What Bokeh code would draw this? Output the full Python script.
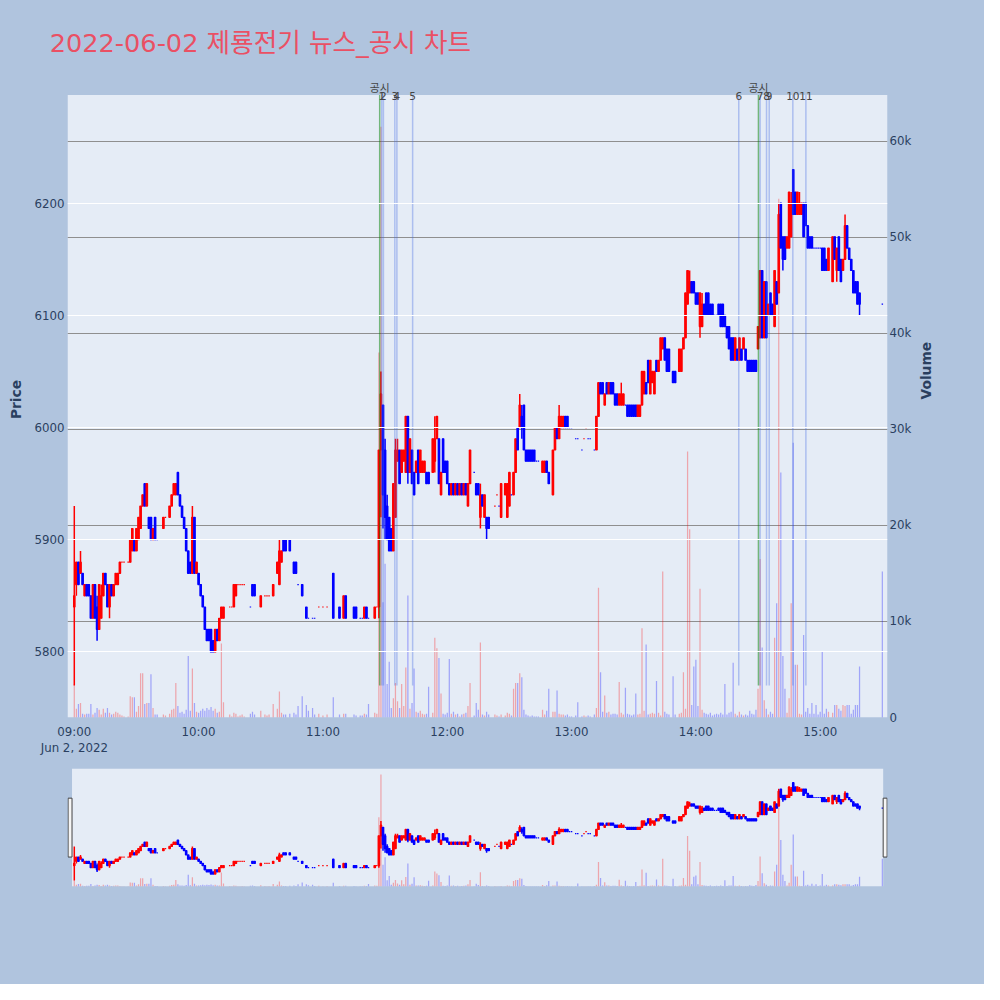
import math
from bokeh.plotting import figure
from bokeh.models import (ColumnDataSource, Range1d, LinearAxis, FixedTicker,
                          NumeralTickFormatter, Label)
from bokeh.layouts import column
from bokeh.embed import file_html
from bokeh.resources import INLINE

# ---------------- data (minutes after 09:00, 2022-06-02) ----------------
title_text = "2022-06-02 제룡전기 뉴스_공시 차트"

minutes = [
    0, 1, 2, 3, 4, 5, 6, 7, 8, 9,
    10, 11, 12, 13, 14, 15, 16, 17, 18, 19,
    20, 21, 22, 23, 24, 26, 27, 28, 29, 30,
    31, 32, 33, 34, 35, 36, 37, 38, 39, 40,
    43, 44, 46, 47, 48, 49, 50, 51, 52, 53,
    54, 55, 56, 57, 58, 59, 60, 61, 62, 63,
    64, 65, 66, 67, 68, 69, 70, 71, 72, 75,
    76, 77, 78, 79, 80, 81, 82, 85, 86, 87,
    90, 92, 93, 94, 96, 98, 99, 100, 101, 102,
    104, 106, 107, 108, 110, 112, 113, 115, 116, 118,
    120, 122, 125, 128, 130, 131, 135, 136, 138, 139,
    140, 141, 142, 145, 146, 147, 148, 149, 150, 151,
    152, 153, 154, 155, 156, 157, 158, 159, 160, 161,
    162, 163, 164, 165, 166, 167, 168, 169, 170, 171,
    173, 174, 175, 176, 177, 178, 179, 180, 181, 182,
    183, 184, 185, 186, 187, 188, 189, 190, 191, 193,
    194, 195, 196, 197, 198, 199, 200, 203, 204, 205,
    206, 208, 209, 210, 211, 212, 213, 214, 215, 216,
    217, 218, 219, 220, 221, 222, 223, 224, 226, 227,
    228, 229, 231, 232, 233, 234, 235, 236, 237, 238,
    239, 240, 242, 243, 245, 246, 247, 248, 249, 251,
    252, 253, 254, 255, 256, 257, 258, 259, 260, 261,
    262, 263, 264, 265, 266, 267, 268, 269, 270, 271,
    272, 273, 274, 275, 276, 277, 278, 279, 280, 281,
    282, 283, 284, 285, 286, 287, 289, 290, 292, 293,
    294, 295, 296, 297, 298, 299, 300, 301, 302, 303,
    304, 305, 306, 307, 308, 309, 310, 311, 312, 313,
    314, 315, 316, 317, 318, 319, 320, 321, 322, 323,
    324, 325, 326, 327, 328, 329, 330, 331, 332, 333,
    334, 335, 336, 337, 338, 339, 340, 341, 342, 343,
    344, 345, 346, 347, 348, 349, 350, 351, 352, 353,
    354, 355, 356, 357, 358, 359, 360, 361, 362, 363,
    364, 366, 367, 368, 369, 370, 371, 372, 373, 374,
    375, 376, 377, 378, 379, 390,
]

open_ = [
    5840, 5860, 5880, 5870, 5870, 5850, 5860, 5860, 5850, 5830,
    5860, 5840, 5820, 5830, 5850, 5870, 5860, 5840, 5860, 5850,
    5860, 5860, 5870, 5880, 5880, 5880, 5880, 5890, 5900, 5890,
    5900, 5910, 5930, 5950, 5930, 5920, 5920, 5900, 5920, 5900,
    5910, 5920, 5920, 5930, 5940, 5940, 5960, 5940, 5930, 5920,
    5910, 5890, 5880, 5870, 5920, 5870, 5870, 5860, 5850, 5840,
    5820, 5820, 5820, 5810, 5800, 5820, 5810, 5830, 5830, 5840,
    5840, 5840, 5850, 5860, 5860, 5860, 5860, 5840, 5860, 5860,
    5840, 5850, 5850, 5850, 5850, 5870, 5860, 5880, 5900, 5900,
    5900, 5880, 5880, 5860, 5860, 5840, 5830, 5830, 5830, 5840,
    5840, 5840, 5870, 5840, 5830, 5850, 5840, 5840, 5830, 5830,
    5830, 5840, 5830, 5830, 5840, 5840, 5980, 6020, 5980, 5930,
    5920, 5910, 5890, 5920, 5970, 5980, 5960, 5970, 5960, 6010,
    5960, 5980, 5960, 5960, 5980, 5960, 5960, 5960, 5960, 5960,
    5960, 5970, 5990, 5990, 5940, 5990, 5970, 5970, 5950, 5940,
    5950, 5940, 5950, 5940, 5950, 5940, 5950, 5930, 5950, 5960,
    5950, 5950, 5920, 5940, 5920, 5920, 5920, 5930, 5940, 5930,
    5920, 5940, 5920, 5930, 5940, 5940, 5960, 6000, 6000, 6010,
    6020, 5980, 5980, 5980, 5980, 5980, 5970, 5970, 5960, 5960,
    5970, 5960, 5940, 5980, 6000, 5990, 6000, 6000, 6010, 6010,
    6000, 6000, 5990, 5990, 5980, 5990, 6000, 5990, 5990, 5980,
    5980, 6010, 6040, 6040, 6020, 6040, 6030, 6040, 6040, 6030,
    6030, 6020, 6020, 6020, 6020, 6020, 6020, 6020, 6020, 6020,
    6010, 6010, 6020, 6030, 6040, 6060, 6030, 6040, 6030, 6060,
    6050, 6060, 6070, 6080, 6070, 6070, 6050, 6050, 6050, 6050,
    6070, 6080, 6110, 6120, 6130, 6130, 6120, 6120, 6090, 6090,
    6110, 6120, 6120, 6110, 6110, 6100, 6100, 6110, 6110, 6110,
    6100, 6090, 6090, 6080, 6080, 6060, 6070, 6060, 6070, 6070,
    6070, 6060, 6060, 6060, 6060, 6060, 6070, 6080, 6140, 6080,
    6130, 6100, 6120, 6110, 6090, 6130, 6120, 6200, 6170, 6170,
    6160, 6160, 6170, 6230, 6210, 6190, 6190, 6190, 6200, 6200,
    6180, 6170, 6170, 6160, 6160, 6160, 6160, 6160, 6160, 6150,
    6140, 6130, 6170, 6140, 6170, 6150, 6140, 6150, 6180, 6160,
    6150, 6140, 6130, 6130, 6120, 6110,
]

high = [
    5930, 5880, 5880, 5890, 5870, 5860, 5860, 5860, 5850, 5860,
    5860, 5850, 5860, 5860, 5870, 5870, 5860, 5860, 5860, 5860,
    5870, 5870, 5880, 5880, 5880, 5880, 5900, 5910, 5900, 5910,
    5920, 5930, 5940, 5950, 5950, 5920, 5920, 5910, 5920, 5900,
    5920, 5920, 5930, 5940, 5950, 5950, 5960, 5940, 5930, 5920,
    5910, 5890, 5880, 5930, 5920, 5880, 5870, 5860, 5850, 5840,
    5820, 5820, 5820, 5810, 5820, 5820, 5830, 5840, 5840, 5840,
    5840, 5860, 5860, 5860, 5860, 5860, 5860, 5840, 5860, 5860,
    5850, 5850, 5850, 5850, 5860, 5880, 5900, 5890, 5900, 5900,
    5900, 5880, 5880, 5860, 5860, 5840, 5830, 5830, 5830, 5840,
    5840, 5840, 5870, 5840, 5850, 5850, 5840, 5840, 5830, 5830,
    5840, 5840, 5830, 5840, 5840, 5980, 6050, 6020, 5990, 5940,
    5920, 5910, 5950, 5990, 5990, 5980, 5980, 5980, 6010, 6010,
    5990, 5980, 5960, 5970, 5980, 5980, 5970, 5970, 5960, 5960,
    5990, 6010, 6010, 5990, 5960, 5990, 5970, 5970, 5950, 5950,
    5950, 5950, 5950, 5950, 5950, 5950, 5950, 5950, 5980, 5960,
    5950, 5950, 5950, 5940, 5940, 5920, 5920, 5930, 5940, 5930,
    5950, 5950, 5950, 5960, 5940, 5960, 5990, 6000, 6030, 6020,
    6020, 5980, 5980, 5980, 5980, 5980, 5970, 5970, 5970, 5970,
    5970, 5960, 5980, 6000, 6000, 6020, 6010, 6010, 6010, 6010,
    6000, 6000, 5990, 5990, 5980, 5990, 6000, 5990, 5990, 5980,
    6010, 6040, 6040, 6040, 6030, 6040, 6040, 6040, 6040, 6030,
    6030, 6030, 6040, 6030, 6020, 6020, 6020, 6020, 6020, 6020,
    6020, 6020, 6050, 6050, 6040, 6060, 6060, 6050, 6050, 6060,
    6060, 6080, 6080, 6080, 6070, 6070, 6050, 6050, 6070, 6070,
    6080, 6120, 6140, 6140, 6130, 6130, 6120, 6120, 6120, 6120,
    6110, 6120, 6120, 6110, 6110, 6100, 6100, 6110, 6110, 6110,
    6100, 6090, 6090, 6080, 6080, 6080, 6070, 6080, 6070, 6080,
    6070, 6060, 6060, 6060, 6060, 6060, 6090, 6140, 6140, 6130,
    6130, 6110, 6120, 6110, 6140, 6130, 6200, 6200, 6170, 6170,
    6170, 6210, 6210, 6230, 6210, 6210, 6210, 6200, 6200, 6200,
    6180, 6170, 6170, 6160, 6160, 6160, 6160, 6160, 6160, 6150,
    6160, 6170, 6170, 6160, 6170, 6150, 6150, 6190, 6180, 6160,
    6150, 6140, 6130, 6130, 6120, 6110,
]

low = [
    5770, 5850, 5860, 5870, 5860, 5850, 5850, 5850, 5830, 5830,
    5830, 5810, 5820, 5830, 5850, 5860, 5840, 5830, 5850, 5850,
    5860, 5860, 5870, 5880, 5880, 5880, 5880, 5890, 5890, 5890,
    5900, 5910, 5930, 5930, 5930, 5910, 5900, 5900, 5900, 5900,
    5910, 5920, 5920, 5930, 5940, 5940, 5940, 5930, 5920, 5910,
    5890, 5870, 5870, 5870, 5870, 5870, 5860, 5850, 5840, 5820,
    5810, 5810, 5800, 5800, 5800, 5810, 5810, 5830, 5830, 5840,
    5840, 5840, 5850, 5860, 5860, 5860, 5860, 5840, 5850, 5850,
    5840, 5850, 5850, 5850, 5850, 5870, 5860, 5880, 5890, 5890,
    5890, 5870, 5870, 5860, 5850, 5830, 5830, 5830, 5830, 5840,
    5840, 5840, 5830, 5830, 5830, 5830, 5830, 5830, 5830, 5830,
    5830, 5830, 5830, 5830, 5840, 5830, 5920, 5910, 5900, 5900,
    5890, 5890, 5890, 5920, 5970, 5950, 5960, 5970, 5960, 5950,
    5960, 5950, 5940, 5960, 5950, 5960, 5960, 5960, 5950, 5950,
    5960, 5960, 5990, 5950, 5940, 5960, 5960, 5950, 5940, 5940,
    5940, 5940, 5940, 5940, 5940, 5940, 5940, 5930, 5950, 5960,
    5940, 5940, 5910, 5930, 5920, 5900, 5910, 5930, 5940, 5930,
    5920, 5940, 5920, 5930, 5940, 5940, 5960, 5980, 6000, 5990,
    5980, 5970, 5970, 5970, 5970, 5970, 5970, 5970, 5960, 5960,
    5960, 5950, 5940, 5980, 5990, 5990, 6000, 6000, 6000, 6000,
    6000, 6000, 5990, 5990, 5980, 5990, 6000, 5990, 5990, 5980,
    5980, 6010, 6030, 6030, 6020, 6030, 6030, 6030, 6030, 6020,
    6020, 6020, 6020, 6020, 6020, 6010, 6010, 6010, 6010, 6010,
    6010, 6010, 6020, 6030, 6030, 6040, 6030, 6040, 6030, 6050,
    6050, 6060, 6070, 6060, 6050, 6050, 6040, 6040, 6050, 6050,
    6070, 6080, 6110, 6120, 6120, 6120, 6110, 6110, 6080, 6090,
    6100, 6100, 6100, 6100, 6100, 6100, 6100, 6100, 6090, 6090,
    6090, 6080, 6070, 6060, 6060, 6060, 6060, 6060, 6060, 6070,
    6060, 6050, 6050, 6050, 6050, 6050, 6070, 6080, 6080, 6080,
    6080, 6100, 6100, 6100, 6090, 6110, 6120, 6160, 6140, 6150,
    6160, 6160, 6170, 6190, 6190, 6190, 6190, 6190, 6170, 6180,
    6160, 6160, 6160, 6160, 6160, 6160, 6160, 6140, 6140, 6140,
    6140, 6130, 6150, 6130, 6140, 6130, 6140, 6150, 6160, 6150,
    6140, 6120, 6120, 6110, 6100, 6110,
]

close = [
    5850, 5880, 5860, 5880, 5860, 5860, 5850, 5850, 5830, 5860,
    5830, 5820, 5860, 5850, 5870, 5860, 5840, 5860, 5850, 5860,
    5870, 5870, 5880, 5880, 5880, 5880, 5900, 5910, 5890, 5910,
    5920, 5930, 5940, 5930, 5950, 5910, 5900, 5910, 5900, 5900,
    5920, 5920, 5930, 5940, 5950, 5950, 5940, 5930, 5920, 5910,
    5890, 5870, 5870, 5920, 5870, 5880, 5860, 5850, 5840, 5820,
    5810, 5810, 5800, 5800, 5820, 5810, 5830, 5840, 5840, 5840,
    5840, 5860, 5860, 5860, 5860, 5860, 5860, 5840, 5850, 5850,
    5850, 5850, 5850, 5850, 5860, 5880, 5890, 5890, 5890, 5890,
    5890, 5870, 5870, 5860, 5850, 5830, 5830, 5830, 5830, 5840,
    5840, 5840, 5830, 5830, 5850, 5830, 5830, 5830, 5830, 5830,
    5840, 5830, 5830, 5840, 5840, 5980, 6030, 5940, 5920, 5900,
    5890, 5890, 5950, 5980, 5980, 5950, 5980, 5980, 6010, 5960,
    5990, 5950, 5940, 5970, 5950, 5980, 5970, 5970, 5950, 5950,
    5990, 5990, 6010, 5950, 5960, 5960, 5960, 5950, 5940, 5950,
    5940, 5950, 5940, 5950, 5940, 5950, 5940, 5950, 5980, 5960,
    5940, 5940, 5940, 5930, 5940, 5910, 5910, 5930, 5940, 5930,
    5950, 5950, 5950, 5960, 5940, 5960, 5990, 5980, 6020, 6000,
    5980, 5970, 5970, 5970, 5970, 5970, 5970, 5970, 5970, 5970,
    5960, 5950, 5980, 6000, 5990, 6010, 6010, 6010, 6000, 6000,
    6000, 6000, 5990, 5990, 5980, 5990, 6000, 5990, 5990, 5980,
    6010, 6040, 6030, 6030, 6030, 6030, 6040, 6030, 6030, 6020,
    6020, 6030, 6030, 6030, 6020, 6010, 6010, 6010, 6010, 6010,
    6020, 6020, 6050, 6050, 6030, 6040, 6060, 6050, 6050, 6050,
    6060, 6080, 6080, 6060, 6050, 6050, 6040, 6040, 6070, 6070,
    6080, 6120, 6140, 6130, 6120, 6120, 6110, 6110, 6120, 6110,
    6100, 6100, 6100, 6100, 6100, 6100, 6100, 6100, 6090, 6090,
    6090, 6080, 6070, 6060, 6060, 6080, 6060, 6080, 6060, 6080,
    6060, 6050, 6050, 6050, 6050, 6050, 6090, 6140, 6080, 6130,
    6080, 6110, 6100, 6100, 6140, 6110, 6190, 6160, 6150, 6150,
    6170, 6210, 6200, 6190, 6190, 6210, 6200, 6200, 6170, 6180,
    6160, 6160, 6160, 6160, 6160, 6160, 6160, 6140, 6140, 6140,
    6160, 6170, 6150, 6160, 6140, 6130, 6150, 6180, 6160, 6150,
    6140, 6120, 6120, 6110, 6110, 6110,
]

volume = [
    3500, 900, 1400, 1500, 400, 300, 400, 400, 1400, 300,
    500, 1000, 800, 300, 900, 500, 1000, 500, 300, 400,
    600, 500, 300, 200, 100, 100, 2200, 2100, 2100, 600,
    1200, 4600, 4600, 1400, 1500, 1500, 4500, 1000, 300, 300,
    300, 200, 400, 800, 900, 3600, 1200, 500, 600, 400,
    800, 6400, 700, 5100, 1500, 600, 500, 700, 900, 700,
    1000, 800, 1100, 700, 900, 500, 600, 7700, 1600, 300,
    100, 500, 400, 100, 200, 300, 100, 400, 600, 300,
    700, 300, 200, 300, 1400, 900, 2700, 500, 300, 300,
    400, 500, 300, 1200, 2200, 1300, 700, 1000, 300, 400,
    200, 300, 2100, 300, 400, 400, 300, 200, 200, 200,
    400, 300, 1400, 500, 400, 38000, 61500, 12000, 16000, 3500,
    5800, 1000, 2000, 3600, 1700, 1000, 3500, 1200, 5200, 12700,
    900, 1500, 5100, 600, 500, 700, 400, 300, 400, 3200,
    500, 8300, 7200, 6200, 2500, 400, 300, 500, 6100, 400,
    600, 300, 400, 100, 300, 400, 500, 1200, 3600, 200,
    1500, 800, 7800, 300, 200, 600, 300, 300, 200, 100,
    300, 200, 500, 400, 200, 3000, 3600, 3600, 4600, 4200,
    800, 300, 200, 100, 200, 100, 100, 100, 800, 300,
    700, 3000, 600, 600, 2800, 400, 300, 300, 200, 300,
    100, 100, 200, 1600, 100, 200, 100, 200, 100, 300,
    1000, 13500, 4700, 600, 2300, 500, 600, 300, 400, 400,
    300, 3700, 500, 300, 3100, 400, 300, 200, 300, 2500,
    300, 400, 9300, 700, 7600, 300, 400, 500, 400, 3800,
    500, 200, 15200, 600, 400, 300, 4300, 300, 400, 500,
    4700, 900, 27700, 19600, 1300, 5300, 6000, 1200, 13400, 800,
    500, 400, 300, 500, 200, 300, 400, 300, 500, 300,
    3500, 300, 500, 600, 5700, 400, 200, 600, 300, 200,
    300, 200, 700, 400, 300, 800, 3000, 16500, 7300, 1800,
    900, 300, 600, 400, 8300, 11900, 54000, 25500, 6400, 3000,
    500, 2000, 11900, 28600, 5500, 5500, 400, 300, 8600, 600,
    1000, 400, 1500, 400, 1300, 300, 600, 6900, 400, 900,
    600, 500, 1300, 1300, 900, 700, 1300, 1200, 1300, 1300,
    400, 800, 1300, 1300, 5300, 15200,
]

# news (numbered) and disclosure (공시) marker times, minutes after 09:00
news_minutes = [148.4, 149.2, 154.7, 155.7, 163.3, 320.7, 331.0, 334.1, 335.4, 346.8, 353.1]
news_labels = ["1", "2", "3", "4", "5", "6", "7", "8", "9", "10", "11"]
disc_minutes = [147.4, 330.2]
disc_labels = ["공시", "공시"]

x_tick_pos = [0, 60, 120, 180, 240, 300, 360]
x_tick_labels = ["09:00\nJun 2, 2022", "10:00", "11:00", "12:00", "13:00", "14:00", "15:00"]
price_ticks = [5800, 5900, 6000, 6100, 6200]
vol_ticks = [0, 10000, 20000, 30000, 40000, 50000, 60000]

# ---------------- styling / layout constants ----------------
PAGE_BG = "#B0C4DE"
PLOT_BG = "#E5ECF6"
TXT = "#2a3f5f"
FONT = "DejaVu Sans, Noto Sans CJK KR"
RED, BLUE = "#ff0000", "#0000ff"

X0, X1 = -3.28, 392.49         # x range (minutes) across the plot width
Y0, Y1 = 5741.5, 6296.5        # price range of the plot area
Y_TOP = 6308.5                 # frame top (leaves room for marker labels)
V_TOP = 66217                  # volume value at frame top
LABEL_Y_NUM = 6295.6
LABEL_Y_DISC = 6302.6

# candle direction (plotly rule for open == close)
inc = []
prev_c, prev_inc = None, True
for oo, cc in zip(open_, close):
    if cc > oo:
        d = True
    elif cc < oo:
        d = False
    elif prev_c is not None and cc != prev_c:
        d = cc > prev_c
    else:
        d = prev_inc
    inc.append(d)
    prev_c, prev_inc = cc, d
col = [RED if d else BLUE for d in inc]

src = ColumnDataSource(dict(
    t=minutes, o=open_, h=high, l=low, c=close, v=volume,
    top=[max(a, b) for a, b in zip(open_, close)],
    bot=[min(a, b) for a, b in zip(open_, close)],
    col=col,
))


def draw_series(fig):
    fig.vbar(x="t", width=0.6, top="v", bottom=0, source=src, y_range_name="vol",
             fill_color="col", fill_alpha=0.3, line_color=None)
    fig.segment(x0="t", y0="l", x1="t", y1="h", source=src,
                line_color="col", line_width=1.5)
    fig.vbar(x="t", width=0.7, top="top", bottom="bot", source=src,
             fill_color="col", line_color="col", line_width=1.2)


def style_axis(ax):
    ax.axis_line_color = None
    ax.major_tick_line_color = None
    ax.minor_tick_line_color = None
    ax.major_tick_in = 0
    ax.major_tick_out = 0
    ax.major_label_text_font = FONT
    ax.major_label_text_font_size = "11.8px"
    ax.major_label_text_color = TXT
    ax.axis_label_text_font = FONT
    ax.axis_label_text_font_size = "13.8px"
    ax.axis_label_text_font_style = "bold"
    ax.axis_label_text_color = TXT


# ---------------- main chart ----------------
p = figure(width=984, height=760, x_range=Range1d(X0, X1), y_range=Range1d(Y0, Y_TOP),
           title=title_text, output_backend="svg", toolbar_location=None, tools="",
           min_border_left=67, min_border_right=97, min_border_top=81, min_border_bottom=43)
p.extra_y_ranges = {"vol": Range1d(0, V_TOP)}
p.background_fill_color = PAGE_BG
p.border_fill_color = PAGE_BG
p.outline_line_color = None

p.title.text_font = FONT
p.title.text_font_size = "25.6px"
p.title.text_font_style = "normal"
p.title.text_color = "#EA5064"
p.title.align = "left"
p.title.offset = -17.8
p.title.standoff = 48

p.xgrid.visible = False
p.ygrid.grid_line_color = "white"
p.ygrid.grid_line_width = 1
p.ygrid.level = "glyph"

p.yaxis.ticker = FixedTicker(ticks=price_ticks)
p.yaxis.axis_label = "Price"
p.yaxis.major_label_standoff = 3
p.yaxis.axis_label_standoff = 7
style_axis(p.yaxis[0])

p.xaxis.ticker = FixedTicker(ticks=x_tick_pos)
p.xaxis.major_label_overrides = dict(zip(x_tick_pos, x_tick_labels))
p.xaxis.major_label_standoff = 7
style_axis(p.xaxis[0])

vax = LinearAxis(y_range_name="vol", ticker=FixedTicker(ticks=vol_ticks),
                 formatter=NumeralTickFormatter(format="0a"), axis_label="Volume")
style_axis(vax)
vax.major_label_standoff = 2
vax.axis_label_standoff = 12
vax.axis_label_orientation = math.pi / 2
p.add_layout(vax, "right")

# plot area background (the frame itself is page-coloured above it)
p.quad(left=X0, right=X1, bottom=Y0, top=Y1, fill_color=PLOT_BG, line_color=None, level="underlay")

# volume grid lines
p.hspan(y=vol_ticks[1:], line_color="#8f8f8f", line_width=1.2, y_range_name="vol")

draw_series(p)

# event marker lines
line_floor = min(low)
p.segment(x0=news_minutes, y0=line_floor, x1=news_minutes, y1=Y1,
          line_color="royalblue", line_alpha=0.35, line_width=1.5)
p.segment(x0=disc_minutes, y0=line_floor, x1=disc_minutes, y1=Y1,
          line_color="green", line_alpha=0.5, line_width=1.5)

for xm, s in zip(news_minutes, news_labels):
    p.add_layout(Label(x=xm, y=LABEL_Y_NUM, text=s, text_align="center", text_baseline="middle",
                       text_font=FONT, text_font_size="10.5px", text_color="#444444"))
for xm, s in zip(disc_minutes, disc_labels):
    p.add_layout(Label(x=xm, y=LABEL_Y_DISC, text=s, text_align="center", text_baseline="middle",
                       text_font=FONT, text_font_size="10.8px", text_color="#444444"))

# ---------------- range slider ----------------
p2 = figure(width=984, height=224, x_range=p.x_range, y_range=Range1d(Y0, Y1),
            output_backend="svg", toolbar_location=None, tools="",
            x_axis_type=None, y_axis_type=None,
            min_border_left=67, min_border_right=97, min_border_top=8, min_border_bottom=98)
p2.extra_y_ranges = {"vol": Range1d(0, V_TOP * (Y1 - Y0) / (Y_TOP - Y0))}
p2.background_fill_color = PAGE_BG
p2.border_fill_color = PAGE_BG
p2.outline_line_color = None

slider_lo = minutes[0] - 1.1
slider_hi = minutes[-1] + 0.4
p2.quad(left=slider_lo, right=slider_hi, bottom=Y0, top=Y1,
        fill_color=PLOT_BG, line_color=None)
draw_series(p2)

hw = 1.9
p2.quad(left=[slider_lo - hw, slider_hi], right=[slider_lo, slider_hi + hw],
        bottom=5880, top=6157, fill_color="#f5f5f5", line_color="#444444", line_width=1)

layout = column(p, p2, spacing=0, styles={"background-color": PAGE_BG})
open("out.html", "w").write(file_html(layout, INLINE))
